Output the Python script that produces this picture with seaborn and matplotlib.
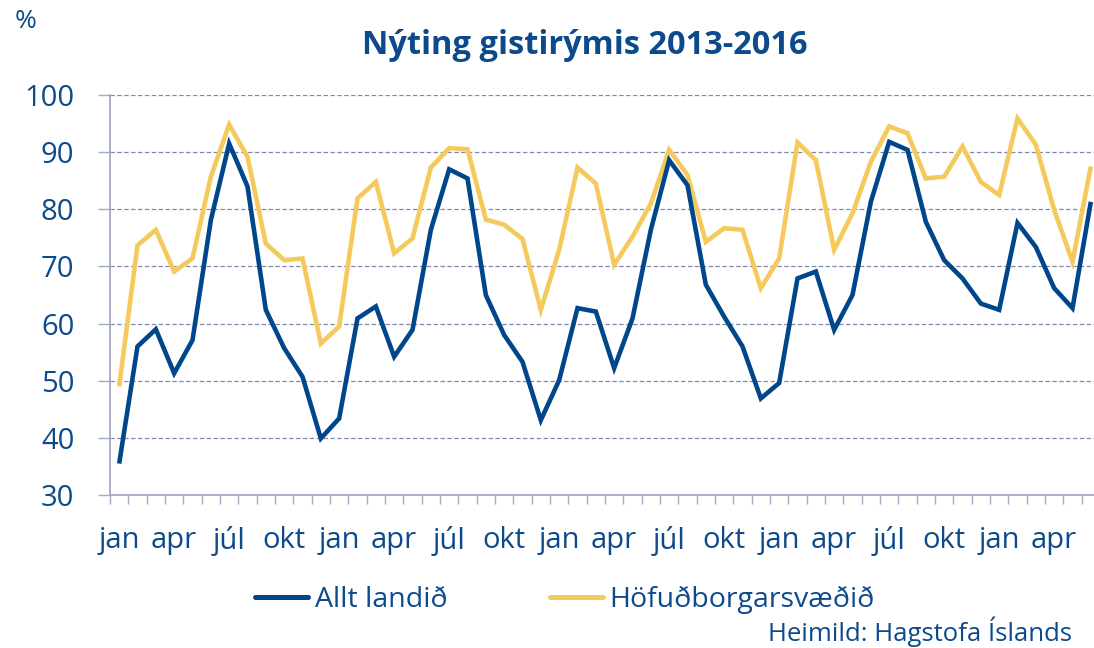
import numpy as np
import pandas as pd
import matplotlib
matplotlib.use("Agg")
import matplotlib.pyplot as plt
import seaborn as sns

# Monthly room occupancy (%), January 2013 onward
months = (["jan", "feb", "mar", "apr", "maí", "jún", "júl", "ágú", "sep", "okt", "nóv", "des"] * 5)[:54]

allt_landid = [
    35.5, 56.0, 59.0, 51.3, 57.1, 78.1, 91.5, 84.0, 62.4, 55.7, 50.7, 39.9,
    43.4, 60.9, 63.0, 54.2, 58.9, 76.4, 87.0, 85.4, 65.0, 58.0, 53.3, 43.1,
    50.1, 62.7, 62.1, 52.2, 60.9, 76.4, 88.6, 84.2, 66.8, 61.2, 56.0, 46.9,
    49.6, 67.9, 69.1, 58.9, 65.0, 81.3, 91.8, 90.4, 77.8, 71.1, 67.9, 63.5,
    62.4, 77.6, 73.4, 66.2, 62.7, 81.3,
]
hofudborgarsvaedid = [
    49.0, 73.7, 76.4, 69.1, 71.4, 85.7, 94.8, 89.2, 74.0, 71.1, 71.4, 56.5,
    59.5, 81.9, 84.8, 72.3, 74.9, 87.3, 90.7, 90.5, 78.2, 77.3, 74.8, 62.4,
    72.9, 87.3, 84.5, 70.3, 75.2, 81.0, 90.4, 86.0, 74.3, 76.7, 76.4, 66.2,
    71.4, 91.7, 88.6, 72.9, 79.3, 88.3, 94.5, 93.3, 85.4, 85.7, 91.0, 84.8,
    82.5, 95.9, 91.3, 79.9, 70.8, 87.5,
]
series_names = ["Allt landið", "Höfuðborgarsvæðið"]
y_ticks = [30, 40, 50, 60, 70, 80, 90, 100]

TEXT = "#0D4A8C"
BLUE = "#00468B"
YELLOW = "#F5CA5C"
AXIS = "#A3AAC6"
GRID = "#8088B0"

sns.set_theme(style="white")
plt.rcParams["font.family"] = ["Open Sans", "DejaVu Sans"]

df = pd.DataFrame({
    "t": list(range(len(allt_landid))) * 2,
    "value": allt_landid + hofudborgarsvaedid,
    "series": [series_names[0]] * len(allt_landid) + [series_names[1]] * len(hofudborgarsvaedid),
})

W, H = 1094, 648
fig = plt.figure(figsize=(W / 100, H / 100), dpi=100)
ax = fig.add_axes([110 / W, 1 - 495 / H, (1100 - 110) / W, 400 / H])

sns.lineplot(data=df, x="t", y="value", hue="series", hue_order=series_names,
             palette=[BLUE, YELLOW], linewidth=3.3, ax=ax, legend=False,
             solid_joinstyle="miter", solid_capstyle="butt")
# keep the national series drawn above the capital-region series
for line in ax.lines:
    if matplotlib.colors.to_hex(line.get_color()).lower() == BLUE.lower():
        line.set_zorder(4)
    else:
        line.set_zorder(3)

n = len(allt_landid)
ax.set_xlim(-0.5, n - 0.5)
ax.set_ylim(30, 100)

# y axis
ax.set_yticks(y_ticks)
ax.set_yticklabels([str(v) for v in y_ticks])
ax.tick_params(axis="y", which="major", direction="out", length=8.6, width=1.0,
               color=AXIS, labelsize=21, labelcolor=TEXT, pad=17, left=True)
for yv in y_ticks[1:]:
    ax.axhline(yv, color=GRID, lw=0.9, ls=(0, (3.5, 2)), zorder=1)

# x axis: labels every quarter, tick marks at month boundaries
ax.set_xticks(range(0, n, 3))
ax.set_xticklabels([months[i] for i in range(0, n, 3)])
ax.set_xticks(np.arange(-0.5, n + 0.5, 1), minor=True)
ax.tick_params(axis="x", which="major", length=0, labelsize=21, labelcolor=TEXT, pad=22)
ax.tick_params(axis="x", which="minor", direction="out", length=6.5, width=1.0,
               color=AXIS, bottom=True)

for side in ["top", "right"]:
    ax.spines[side].set_visible(False)
for side in ["left", "bottom"]:
    ax.spines[side].set_color(AXIS)
    ax.spines[side].set_linewidth(1.3)
ax.set_xlabel("")
ax.set_ylabel("")
ax.grid(False)

# titles and notes
fig.text(585 / W, 1 - 46 / H, "Nýting gistirýmis 2013-2016", ha="center", va="center",
         fontsize=23.5, fontweight="bold", color=TEXT)
fig.text(15 / W, 1 - 22 / H, "%", ha="left", va="center", fontsize=19, color=TEXT)
fig.text(1072 / W, 1 - 632 / H, "Heimild: Hagstofa Íslands", ha="right", va="center",
         fontsize=18.5, color=TEXT)

handles = [plt.Line2D([], [], color=BLUE, lw=3.6), plt.Line2D([], [], color=YELLOW, lw=3.6)]
fig.legend(handles, series_names, loc="center", bbox_to_anchor=(565 / W, 1 - 600 / H),
           ncol=2, frameon=False, fontsize=20.5, labelcolor=TEXT, handlelength=1.85,
           handletextpad=0.25, columnspacing=3.6)

fig.savefig("out.png", dpi=100)
